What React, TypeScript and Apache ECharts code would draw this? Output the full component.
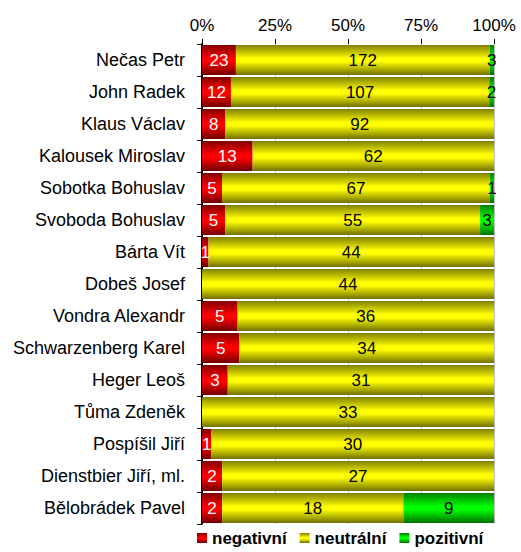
import React, { useEffect, useRef } from "react";
import * as echarts from "echarts";

const categories = [
  "Nečas Petr",
  "John Radek",
  "Klaus Václav",
  "Kalousek Miroslav",
  "Sobotka Bohuslav",
  "Svoboda Bohuslav",
  "Bárta Vít",
  "Dobeš Josef",
  "Vondra Alexandr",
  "Schwarzenberg Karel",
  "Heger Leoš",
  "Tůma Zdeněk",
  "Pospíšil Jiří",
  "Dienstbier Jiří, ml.",
  "Bělobrádek Pavel",
];
const negativni = [23, 12, 8, 13, 5, 5, 1, 0, 5, 5, 3, 0, 1, 2, 2];
const neutralni = [172, 107, 92, 62, 67, 55, 44, 44, 36, 34, 31, 33, 30, 27, 18];
const pozitivni = [3, 2, 0, 0, 1, 3, 0, 0, 0, 0, 0, 0, 0, 0, 9];
const xTicks = ["0%", "25%", "50%", "75%", "100%"];

const FONT = "'Liberation Sans', Arial, sans-serif";

function grad(edge: string, mid: string, edge2: string) {
  return new echarts.graphic.LinearGradient(0, 0, 0, 1, [
    { offset: 0, color: edge },
    { offset: 0.45, color: mid },
    { offset: 0.55, color: mid },
    { offset: 1, color: edge2 },
  ]);
}

export default function App() {
  const ref = useRef<HTMLDivElement>(null);
  useEffect(() => {
    const chart = echarts.init(ref.current!, null, { renderer: "svg" });
    const totals = categories.map((_, i) => negativni[i] + neutralni[i] + pozitivni[i]);
    const mk = (arr: number[]) =>
      arr.map((v, i) => ({ value: (v / totals[i]) * 100, raw: v }));
    const labelFmt = (p: any) => (p.data.raw ? String(p.data.raw) : "");
    const series = [
      {
        name: "negativní",
        arr: negativni,
        color: grad("#800000", "#ff0000", "#700000"),
        labelColor: "#ffffff",
      },
      {
        name: "neutrální",
        arr: neutralni,
        color: grad("#808000", "#ffff00", "#707000"),
        labelColor: "#000000",
      },
      {
        name: "pozitivní",
        arr: pozitivni,
        color: grad("#008000", "#00ff00", "#007000"),
        labelColor: "#000000",
      },
    ].map((s) => ({
      name: s.name,
      type: "bar",
      stack: "total",
      barCategoryGap: "6%",
      data: mk(s.arr),
      itemStyle: { color: s.color },
      label: {
        show: true,
        position: "inside",
        formatter: labelFmt,
        color: s.labelColor,
        fontSize: 17,
        fontFamily: FONT,
      },
    }));

    chart.setOption({
      animation: false,
      grid: { left: 202, right: 27, top: 44, bottom: 28 },
      legend: {
        top: 529,
        left: 197,
        padding: 0,
        itemWidth: 10,
        itemHeight: 10,
        itemGap: 13,
        icon: "rect",
        textStyle: {
          fontFamily: FONT,
          fontSize: 17,
          lineHeight: 18,
          fontWeight: "bold",
          color: "#000",
        },
        data: ["negativní", "neutrální", "pozitivní"],
      },
      xAxis: {
        type: "value",
        position: "top",
        min: 0,
        max: 100,
        interval: 25,
        axisLine: { show: false },
        axisTick: { show: true, length: 5, lineStyle: { color: "#000" } },
        axisLabel: {
          fontFamily: FONT,
          fontSize: 17,
          color: "#000",
          margin: 10,
          formatter: (v: number) => xTicks[Math.round(v / 25)],
        },
        splitLine: { show: true, lineStyle: { color: "#c0c0c0", width: 1 } },
      },
      yAxis: {
        type: "category",
        inverse: true,
        data: categories,
        axisLine: { show: true, lineStyle: { color: "#000", width: 2 } },
        axisTick: { show: true, length: 5, lineStyle: { color: "#000" } },
        axisLabel: { fontFamily: FONT, fontSize: 18, color: "#000", margin: 17 },
      },
      series,
    });
    return () => chart.dispose();
  }, []);
  return <div ref={ref} style={{ width: 521, height: 552, position: "absolute", left: 0, top: 0 }} />;
}
